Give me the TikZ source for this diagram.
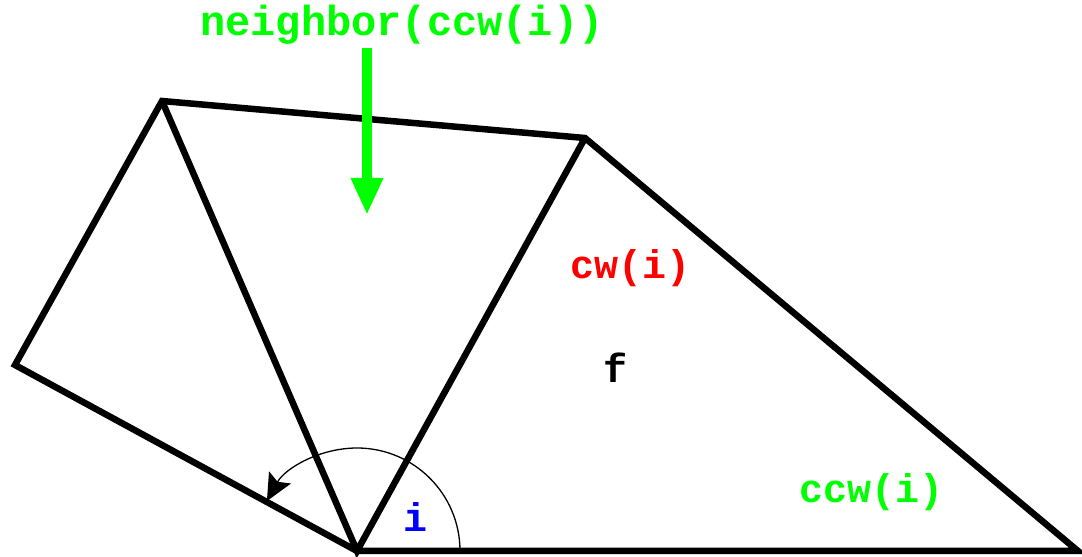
\documentclass[tikz,border=0pt]{standalone}
\usepackage{fontspec}
\newfontfamily\cour{Liberation Mono}
\usetikzlibrary{arrows.meta}
\definecolor{lgreen}{RGB}{0,255,0}
\definecolor{lred}{RGB}{255,0,0}
\definecolor{lblue}{RGB}{0,0,255}
\tikzset{
  edge/.style={line width=6.5pt, line join=miter, line cap=butt},
  lbl/.style={font=\cour\bfseries\fontsize{40}{40}\selectfont, inner sep=0pt, anchor=center},
}
\begin{document}
\begin{tikzpicture}[x=1pt,y=1pt]
\useasboundingbox (0,0) rectangle (1082,557);
\coordinate (A) at (162,456);
\coordinate (B) at (585,419);
\coordinate (C) at (15,192);
\coordinate (D) at (357,6);
\coordinate (E) at (1078,6);
\draw[edge] (C) -- (A) -- (B) -- (E) -- (D) -- cycle;
\draw[edge] (A) -- (D) -- (B);
% angle arc
\draw[line width=1.3pt, -{Stealth[length=27pt 0,width=25pt 0,inset=5pt 0]}] ([xshift=103pt]D) arc[start angle=0, end angle=151, radius=103];
% green arrow
\coordinate (gs) at (367,509);
\coordinate (ge) at (367,342);
\draw[lgreen, line width=10pt, -{Triangle[length=37pt 0,width=30pt 0]}] (gs) -- (ge);
\node[lbl, text=lgreen, font=\cour\bfseries\fontsize{42}{42}\selectfont] (nb) at (402,532) {neighbor(ccw(i))};
\node[lbl, text=lred] (cw) at (631,289) {cw(i)};
\node[lbl, text=black] (f) at (615,189) {f};
\node[lbl, text=lgreen] (ccw) at (872,65) {ccw(i)};
\node[lbl, text=lblue] (i) at (415,40) {i};
\end{tikzpicture}
\end{document}
